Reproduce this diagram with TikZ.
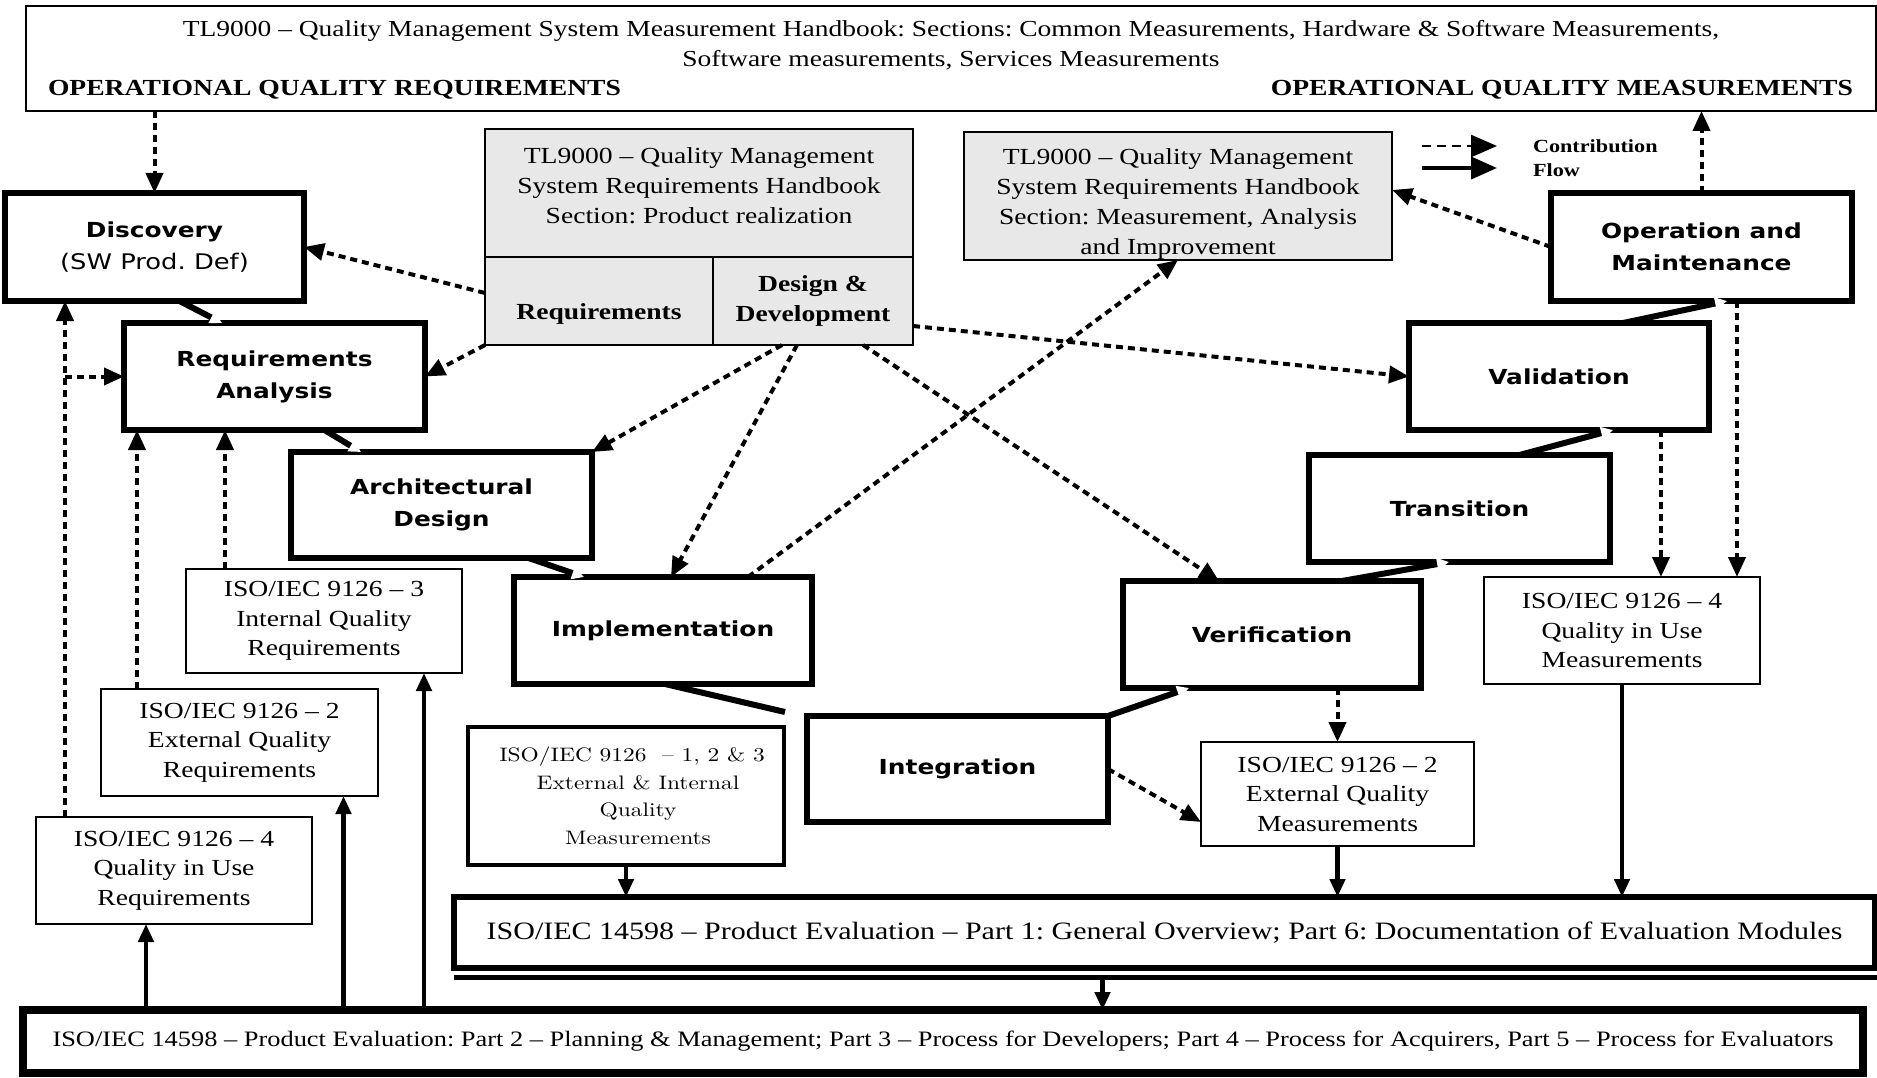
\documentclass[tikz,border=0pt]{standalone}
\usepackage{fontspec}
\setmainfont{Liberation Serif}[FakeStretch=1.2]
\newfontfamily\phasefont{DejaVu Sans}[FakeStretch=1.2]
\newfontfamily\lmfont{lmroman10-regular}[Extension=.otf,FakeStretch=1.2]
\usetikzlibrary{arrows.meta}
\definecolor{cellgray}{RGB}{232,232,232}
\tikzset{
  box/.style={anchor=north west, inner sep=0pt, outer sep=0pt, align=center, fill=white},
  phase/.style={box, draw, line width=5.5pt,
    font=\phasefont\bfseries\fontsize{20.7}{32}\selectfont},
  info/.style={box, draw, line width=2.5pt, font=\fontsize{23}{29.5}\selectfont},
  cell/.style={box, draw, line width=2pt, fill=cellgray, font=\fontsize{23}{30}\selectfont},
  txt/.style={inner sep=0pt, outer sep=0pt, align=center},
  dep/.style={line width=4pt, dash pattern=on 7pt off 5pt, -{Triangle[length=20pt,width=17pt]}},
  flow/.style={line width=4.5pt, -{Triangle[length=18pt,width=15pt]}},
  link/.style={line width=6pt, -{Triangle[color=white,length=12pt,width=12pt]}},
  plainlink/.style={line width=6pt}
}
\begin{document}
\frenchspacing
\begin{tikzpicture}[x=1pt,y=-1pt]
\useasboundingbox (0,0) rectangle (1877,1078);

% ---------- handbook banner ----------
\node[box, draw, line width=2.5pt, minimum width=1850pt, minimum height=105pt] (top) at (26,6) {};
\node[txt, font=\fontsize{22.9}{30}\selectfont] (title) at (951,45)
  {TL9000 – Quality Management System Measurement Handbook: Sections: Common Measurements, Hardware \& Software Measurements,\\
   Software measurements, Services Measurements};
\node[txt, anchor=west, font=\fontsize{23}{30}\selectfont\bfseries] (oqr) at (48,90) {OPERATIONAL QUALITY REQUIREMENTS};
\node[txt, anchor=east, font=\fontsize{23}{30}\selectfont\bfseries] (oqm) at (1853,90) {OPERATIONAL QUALITY MEASUREMENTS};

% ---------- TL9000 requirements handbook boxes ----------
\node[cell, minimum width=428pt, minimum height=128pt] (g1top) at (485,129) {};
\node[txt, font=\fontsize{23}{30}\selectfont] (g1text) at ([yshift=7pt]g1top.center)
  {TL9000 – Quality Management\\System Requirements Handbook\\Section: Product realization};
\node[cell, minimum width=228pt, minimum height=88pt] (g1req) at (485,257) {};
\node[txt, font=\fontsize{23}{30}\selectfont\bfseries] (g1reqtext) at ([yshift=-13pt]g1req.center) {Requirements};
\node[cell, minimum width=200pt, minimum height=88pt, font=\fontsize{23}{30}\selectfont\bfseries] (g1dd) at (713,257)
  {Design \&\\Development};
\node[cell, minimum width=428pt, minimum height=128pt] (g2) at (964,132) {};
\node[txt, font=\fontsize{23}{30}\selectfont] (g2text) at ([yshift=-8pt]g2.center)
  {TL9000 – Quality Management\\System Requirements Handbook\\Section: Measurement, Analysis\\and Improvement};

% ---------- legend ----------
\coordinate (lgA) at (1422,146);
\coordinate (lgB) at (1497,146);
\coordinate (lgC) at (1422,168);
\coordinate (lgD) at (1497,168);
\draw[line width=2.5pt, dash pattern=on 9pt off 6pt, -{Triangle[length=26pt,width=22pt]}] (lgA) -- (lgB);
\draw[line width=4pt, -{Triangle[length=26pt,width=22pt]}] (lgC) -- (lgD);
\node[txt, anchor=west, align=left, font=\fontsize{18.5}{24}\selectfont\bfseries] (legend) at (1533,158) {Contribution\\Flow};

% ---------- life-cycle phases ----------
\node[phase, minimum width=299pt, minimum height=108pt] (disc)  at (5,193)   {Discovery\\{\mdseries\fontsize{21.5}{32}\selectfont (SW Prod. Def)}};
\node[phase, minimum width=301pt, minimum height=107pt] (reqan) at (124,323) {Requirements\\Analysis};
\node[phase, minimum width=301pt, minimum height=106pt] (arch)  at (291,452) {Architectural\\Design};
\node[phase, minimum width=298pt, minimum height=107pt] (impl)  at (514,577) {Implementation};
\node[phase, minimum width=301pt, minimum height=106pt] (integ) at (807,716) {Integration};
\node[phase, minimum width=298pt, minimum height=107pt] (verif) at (1123,581) {Verification};
\node[phase, minimum width=301pt, minimum height=107pt] (trans) at (1309,455) {Transition};
\node[phase, minimum width=300pt, minimum height=107pt] (valid) at (1409,323) {Validation};
\node[phase, minimum width=301pt, minimum height=108pt] (oper)  at (1551,193) {Operation and\\Maintenance};

% ---------- ISO/IEC 9126 boxes ----------
\node[info, minimum width=276pt, minimum height=104pt] (iso3)  at (186,569)  {ISO/IEC 9126 – 3\\Internal Quality\\Requirements};
\node[info, minimum width=277pt, minimum height=107pt] (iso2r) at (101,689)  {ISO/IEC 9126 – 2\\External Quality\\Requirements};
\node[info, minimum width=276pt, minimum height=107pt] (iso4r) at (36,817)   {ISO/IEC 9126 – 4\\Quality in Use\\Requirements};
\node[info, minimum width=276pt, minimum height=107pt] (iso4m) at (1484,577) {ISO/IEC 9126 – 4\\Quality in Use\\Measurements};
\node[info, minimum width=273pt, minimum height=104pt] (iso2m) at (1201,742) {ISO/IEC 9126 – 2\\External Quality\\Measurements};
\node[info, line width=4.5pt, minimum width=316pt, minimum height=138pt, font=\lmfont\fontsize{19.5}{27.5}\selectfont] (iso123) at (468,727)
  {\hspace*{12pt}ISO/IEC 9126~ – 1, 2 \& 3\\\hspace*{24pt}External \& Internal\\\hspace*{24pt}Quality\\\hspace*{24pt}Measurements};

% ---------- ISO/IEC 14598 boxes ----------
\node[box, draw, line width=6pt, minimum width=1421pt, minimum height=71pt, font=\fontsize{25}{30}\selectfont] (part16) at (454,897)
  {ISO/IEC 14598 – Product Evaluation – Part 1: General Overview; Part 6: Documentation of Evaluation Modules};
\draw[line width=5pt] ([yshift=-9pt]part16.south west) -- ++(1423,0);
\node[box, draw, line width=7.5pt, minimum width=1840pt, minimum height=63pt, font=\fontsize{22}{30}\selectfont] (bot) at (23,1010)
  {ISO/IEC 14598 – Product Evaluation: Part 2 – Planning \& Management; Part 3 – Process for Developers; Part 4 – Process for Acquirers, Part 5 – Process for Evaluators};

% ---------- phase-to-phase links ----------
\draw[link] ([xshift=25pt]disc.south)   -- ([xshift=98pt]reqan.north west);
\draw[link] ([xshift=50pt]reqan.south)  -- ([xshift=70pt]arch.north west);
\draw[link] ([xshift=87pt]arch.south)   -- ([xshift=70pt]impl.north west);
\draw[plainlink] ([xshift=2pt]impl.south) -- ([xshift=-22pt,yshift=4pt]integ.north west);
\draw[link] (integ.north east)          -- ([xshift=66pt]verif.south west);
\draw[link] ([xshift=70pt]verif.north)  -- ([xshift=140pt]trans.south west);
\draw[link] ([xshift=60pt]trans.north)  -- ([xshift=204pt]valid.south west);
\draw[link] ([xshift=64pt]valid.north)  -- ([xshift=176pt]oper.south west);

% ---------- contribution (dashed) ----------
\draw[dep] (top.south -| disc.north) -- (disc.north);
\draw[dep] (oper.north) -- (top.south -| oper.north);
\draw[dep] ([yshift=8pt]g1req.west) -- (disc.east);
\draw[dep] (g1req.south west) -- (reqan.east);
\draw[dep] ([xshift=-31pt]g1dd.south) -- (arch.north east);
\draw[dep] ([xshift=-16pt]g1dd.south) -- ([xshift=8pt]impl.north);
\draw[dep] ([xshift=50pt]g1dd.south) -- ([xshift=96pt]verif.north west);
\draw[dep] ([yshift=-25pt]g1dd.east) -- (valid.west);
\draw[dep] ([xshift=-64pt]impl.north east) -- (g2.south);
\draw[dep] (oper.west) -- ([yshift=6pt]g2.east);

\coordinate (v1) at ([xshift=39pt]iso4m.north);
\coordinate (v2) at ([xshift=115pt]iso4m.north);
\draw[dep] (v1 |- valid.south) -- (v1);
\draw[dep] (v2 |- oper.south) -- (v2);
\draw[dep] (verif.south -| iso2m.north) -- (iso2m.north);
\draw[dep] (integ.east) -- ([yshift=-28pt]iso2m.west);

\coordinate (v3) at ([xshift=29pt]iso4r.north west);
\coordinate (v4) at ([xshift=36pt]iso2r.north west);
\coordinate (v5) at ([xshift=39pt]iso3.north west);
\draw[dep] (v3) -- (v3 |- disc.south);
\draw[dep] (v3 |- reqan.west) -- (reqan.west);
\draw[dep] (v4) -- (v4 |- reqan.south);
\draw[dep] (v5) -- (v5 |- reqan.south);

% ---------- flow (solid) ----------
\coordinate (s1) at ([xshift=-28pt]iso4r.south);
\coordinate (s2) at ([xshift=104pt]iso2r.south);
\coordinate (s3) at ([xshift=100pt]iso3.south);
\coordinate (s4) at ([xshift=-62pt,yshift=-9pt]part16.south);
\draw[flow] (s1 |- bot.north) -- (s1);
\draw[flow] (s2 |- bot.north) -- (s2);
\draw[flow] (s3 |- bot.north) -- (s3);
\draw[flow] (iso123.south) -- (iso123.south |- part16.north);
\draw[flow] (iso2m.south) -- (iso2m.south |- part16.north);
\draw[flow] (iso4m.south) -- (iso4m.south |- part16.north);
\draw[flow] (s4) -- (s4 |- bot.north);
\end{tikzpicture}
\end{document}
